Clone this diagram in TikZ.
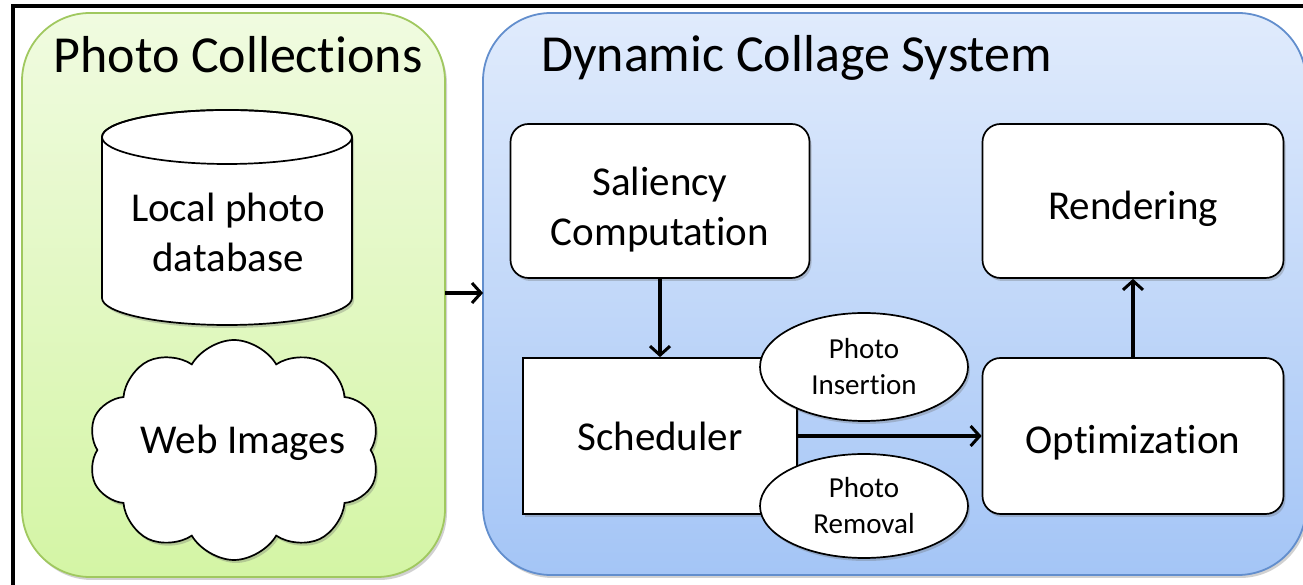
\documentclass[tikz,border=0pt]{standalone}
\usepackage{fontspec}
\setmainfont{Carlito}[Ligatures=NoCommon]
\usetikzlibrary{arrows.meta}
\usetikzlibrary{positioning}
\usetikzlibrary{shadows}
\usetikzlibrary{shapes.geometric}
\usetikzlibrary{shapes.symbols}

\definecolor{greentop}{RGB}{240,251,224}
\definecolor{greenbot}{RGB}{212,245,165}
\definecolor{greenline}{RGB}{160,200,95}
\definecolor{bluetop}{RGB}{224,235,252}
\definecolor{bluebot}{RGB}{164,197,246}
\definecolor{blueline}{RGB}{98,142,205}

\begin{document}
\begin{tikzpicture}[x=1pt, y=1pt,
    every node/.style={align=center, font=\fontsize{41}{50}\selectfont},
    soft/.style={drop shadow={shadow xshift=2pt, shadow yshift=-3pt, opacity=0.3, fill=black!60}},
    panel/.style={rounded corners=68pt, line width=1.8pt, soft},
    heading/.style={font=\fontsize{52}{60}\selectfont},
    box/.style={draw, fill=white, line width=1.7pt, rounded corners=18pt, soft},
    bubble/.style={ellipse, draw, fill=white, line width=1.7pt, inner sep=0pt,
        font=\fontsize{29}{36}\selectfont, soft},
    flow/.style={-{Straight Barb[length=9pt, width=20pt, line width=3pt]}, line width=3.2pt}
]
    \useasboundingbox (0,0) rectangle (1303,585);
    \draw[line width=3.5pt] (13,0) -- (13,579) -- (1310,579);

    % the two panels
    \draw[panel, draw=greenline, top color=greentop, bottom color=greenbot]
        (22,8) rectangle (445,572);
    \draw[panel, draw=blueline, top color=bluetop, bottom color=bluebot]
        (483,10) rectangle (1306,572);
    \node[heading] (pc) at (238,530) {Photo Collections};
    \node[heading, anchor=west, inner sep=0pt] (dcs) at (541,527) {Dynamic Collage System};

    % database drum
    \coordinate (dbtop) at (227,448);
    \coordinate (dbbot) at (227,287);
    \draw[fill=white, line width=1.7pt, soft] (102,448) -- (102,287)
        arc[start angle=180, end angle=360, x radius=125, y radius=27]
        -- (352,448) arc[start angle=0, end angle=180, x radius=125, y radius=27] -- cycle;
    \draw[line width=1.7pt] (dbtop) ellipse[x radius=125, y radius=27];
    \node (local) at (228,353) {Local photo\\database};

    % web cloud
    \node[cloud, cloud puffs=10, cloud puff arc=120, aspect=1.33, draw, fill=white,
        line width=1.7pt, soft, minimum width=292pt, minimum height=220pt] (web) at (234,135) {};
    \node (webtext) at (243,142) {Web Images};

    % collage pipeline
    \node[box, text height=95pt, minimum width=299pt, minimum height=154pt] (saliency) at (660,384) {Saliency\\Computation};
    \node[box, text height=44pt, minimum width=301pt, minimum height=154pt] (render) at (1133,384) {Rendering};
    \node[box, rounded corners=0pt, minimum width=274pt, minimum height=156pt] (sched) at (660,149) {Scheduler};
    \node[box, text height=42pt, minimum width=301pt, minimum height=156pt] (optim) at (1133,149) {Optimization};
    \node[bubble, minimum width=208pt, minimum height=108pt] (insert) at (864,218) {Photo\\Insertion};
    \node[bubble, minimum width=208pt, minimum height=104pt] (remove) at (864,79) {Photo\\Removal};

    \coordinate (pcout) at (445,292);
    \coordinate (dcsin) at (483,292);
    \draw[flow] (pcout) -- (dcsin);
    \draw[flow] (saliency) -- (sched);
    \draw[flow] (sched) -- (optim);
    \draw[flow] (optim) -- (render);
\end{tikzpicture}
\end{document}
